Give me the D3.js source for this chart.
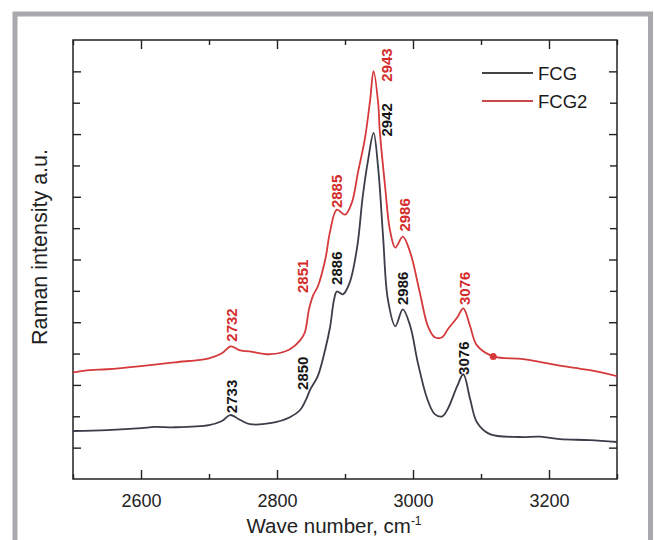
<!DOCTYPE html>
<html>
<head>
<meta charset="utf-8">
<script src="https://cdn.jsdelivr.net/npm/d3@7/dist/d3.min.js"></script>
<style>
  html, body { margin: 0; padding: 0; background: #fff; }
  svg { display: block; }
  text { font-family: "Liberation Sans", Arial, sans-serif; }
</style>
</head>
<body>
<svg id="chart" width="654" height="540"></svg>
<script>
// ---- Data ----
const xTicks = [2600, 2800, 3000, 3200];
const xMinorTicks = [2500, 2600, 2700, 2800, 2900, 3000, 3100, 3200, 3300];
const yTicks = [1, 2, 3, 4, 5, 6, 7, 8, 9, 10, 11, 12, 13];

const fcgWave = [2500, 2550, 2600, 2620, 2650, 2700, 2719, 2731, 2746, 2760, 2790, 2819, 2834, 2843, 2849, 2860, 2871, 2878, 2884, 2888, 2897, 2907, 2918, 2926, 2934, 2942, 2949, 2956, 2963, 2974, 2985, 2996, 3007, 3021, 3032, 3043, 3051, 3065, 3074, 3084, 3094, 3113, 3157, 3187, 3216, 3260, 3300];
const fcgInt  = [1.53, 1.56, 1.62, 1.66, 1.65, 1.72, 1.85, 2.04, 1.88, 1.75, 1.78, 1.97, 2.20, 2.55, 2.86, 3.28, 4.14, 4.84, 5.73, 5.98, 5.89, 6.27, 7.41, 9.00, 10.18, 11.04, 9.86, 7.73, 5.73, 4.87, 5.41, 4.87, 3.72, 2.55, 2.07, 2.00, 2.23, 2.96, 3.34, 2.55, 1.81, 1.43, 1.34, 1.35, 1.27, 1.24, 1.18];

const fcg2Wave = [2500, 2525, 2550, 2600, 2650, 2700, 2719, 2732, 2746, 2760, 2790, 2819, 2834, 2841, 2847, 2853, 2860, 2871, 2878, 2888, 2900, 2910, 2919, 2929, 2937, 2942, 2949, 2951, 2959, 2966, 2974, 2985, 2996, 3010, 3022, 3032, 3043, 3051, 3065, 3074, 3084, 3094, 3118, 3162, 3212, 3260, 3300];
const fcg2Int  = [3.40, 3.47, 3.50, 3.60, 3.72, 3.85, 4.01, 4.23, 4.10, 4.07, 3.98, 4.14, 4.42, 4.68, 5.41, 5.85, 6.14, 7.00, 7.89, 8.59, 8.43, 8.81, 9.77, 10.82, 12.09, 13.01, 11.93, 11.14, 9.32, 7.95, 7.38, 7.73, 7.22, 5.95, 4.87, 4.52, 4.52, 4.77, 5.15, 5.44, 4.87, 4.26, 3.91, 3.82, 3.63, 3.47, 3.28];

// peak label anchors (label baseline position, wave number / intensity)
const fcgPeaks = ["2733", "2850", "2886", "2942", "2986", "3076"];
const fcgPeakX = [2741.5, 2845, 2896, 2969, 2993, 3082];
const fcgPeakY = [2.10, 2.84, 6.19, 10.92, 5.55, 3.32];

const fcg2Peaks = ["2732", "2851", "2885", "2943", "2986", "3076"];
const fcg2PeakX = [2741.5, 2846, 2896, 2969, 2995, 3084.5];
const fcg2PeakY = [4.38, 5.93, 8.64, 12.67, 7.89, 5.55];

const markerWave = [3118];
const markerInt = [3.91];

const seriesNames = ["FCG", "FCG2"];
const seriesColors = ["#3b3d48", "#d5393b"];
const labelColors = ["#151515", "#d42b2b"];

// ---- Layout ----
const svg = d3.select("#chart");
const L = 73, R = 617, T = 40, B = 479;

const x = d3.scaleLinear().domain([2500, 3300]).range([L, R]);
const y = d3.scaleLinear().domain([0, 14]).range([B, T]);

// outer gray frame
svg.append("rect")
  .attr("x", 15).attr("y", 14).attr("width", 635.5).attr("height", 540)
  .attr("fill", "#fff").attr("stroke", "#a9a9ad").attr("stroke-width", 5);

// plot frame
svg.append("rect")
  .attr("x", L).attr("y", T).attr("width", R - L).attr("height", B - T)
  .attr("fill", "none").attr("stroke", "#222").attr("stroke-width", 1.5);

const axisColor = "#222";
function styleAxis(g) {
  g.select(".domain").remove();
  g.selectAll(".tick line").attr("stroke", axisColor).attr("stroke-width", 1.4);
}
// bottom ticks (inward)
svg.append("g").attr("transform", `translate(0,${B})`)
  .call(d3.axisBottom(x).tickValues(xMinorTicks).tickSize(0).tickFormat(""))
  .call(g => {
    styleAxis(g);
    g.selectAll(".tick line").attr("y2", d => xTicks.includes(d) ? -9 : -5);
  });
// bottom labels
svg.append("g").attr("transform", `translate(0,${B})`)
  .call(d3.axisBottom(x).tickValues(xTicks).tickSize(0).tickPadding(15).tickFormat(d3.format("d")))
  .call(g => {
    styleAxis(g);
    g.selectAll(".tick text").attr("font-size", 18).attr("fill", "#222")
      .attr("font-family", "Liberation Sans, Arial, sans-serif");
  });
// top
svg.append("g").attr("transform", `translate(0,${T})`)
  .call(d3.axisTop(x).tickValues(xMinorTicks).tickSize(0).tickFormat(""))
  .call(g => {
    styleAxis(g);
    g.selectAll(".tick line").attr("y2", d => xTicks.includes(d) ? 9 : 5);
  });
// left
svg.append("g").attr("transform", `translate(${L},0)`)
  .call(d3.axisLeft(y).tickValues(yTicks).tickSize(0).tickFormat(""))
  .call(g => {
    styleAxis(g);
    g.selectAll(".tick line").attr("x2", d => d % 2 === 1 ? 8 : 7);
  });
// right
svg.append("g").attr("transform", `translate(${R},0)`)
  .call(d3.axisRight(y).tickValues(yTicks).tickSize(0).tickFormat(""))
  .call(g => {
    styleAxis(g);
    g.selectAll(".tick line").attr("x2", d => d % 2 === 1 ? -8 : -7);
  });

// ---- series ----
const line = d3.line()
  .x(d => x(d[0])).y(d => y(d[1]))
  .curve(d3.curveCatmullRom.alpha(0.5));

const fcgData = fcgWave.map((w, i) => [w, fcgInt[i]]);
const fcg2Data = fcg2Wave.map((w, i) => [w, fcg2Int[i]]);

svg.append("clipPath").attr("id", "clip")
  .append("rect").attr("x", L).attr("y", T).attr("width", R - L).attr("height", B - T);

const plot = svg.append("g").attr("clip-path", "url(#clip)");
plot.append("path").datum(fcg2Data)
  .attr("fill", "none").attr("stroke", seriesColors[1]).attr("stroke-width", 1.8)
  .attr("stroke-linejoin", "round").attr("d", line);
plot.append("path").datum(fcgData)
  .attr("fill", "none").attr("stroke", seriesColors[0]).attr("stroke-width", 1.8)
  .attr("stroke-linejoin", "round").attr("d", line);

plot.selectAll("circle.marker").data(markerWave).join("circle")
  .attr("class", "marker")
  .attr("cx", d => x(d)).attr("cy", (d, i) => y(markerInt[i]))
  .attr("r", 3.5).attr("fill", seriesColors[1]);

// ---- peak labels (rotated) ----
function peakLabels(names, px, py, color) {
  svg.append("g").selectAll("text").data(names).join("text")
    .attr("transform", (d, i) => `translate(${x(px[i])},${y(py[i])}) rotate(-90)`)
    .attr("font-size", 15).attr("font-weight", "bold").attr("fill", color)
    .attr("text-anchor", "start")
    .text(d => d);
}
peakLabels(fcgPeaks, fcgPeakX, fcgPeakY, labelColors[0]);
peakLabels(fcg2Peaks, fcg2PeakX, fcg2PeakY, labelColors[1]);

// ---- legend ----
const legend = svg.append("g");
seriesNames.forEach((name, i) => {
  const ly = 73 + i * 28;
  legend.append("line").attr("x1", 482).attr("x2", 533).attr("y1", ly).attr("y2", ly)
    .attr("stroke", i === 0 ? "#444" : "#c9494a").attr("stroke-width", 1.8);
  legend.append("text").attr("x", 538).attr("y", ly + 6.5)
    .attr("font-size", 18.5).attr("fill", "#1a1a1a").text(name);
});

// ---- axis titles ----
const xt = svg.append("text").attr("x", 334).attr("y", 533)
  .attr("text-anchor", "middle").attr("font-size", 20.5).attr("fill", "#222");
xt.append("tspan").text("Wave number, cm");
xt.append("tspan").attr("dy", -8).attr("font-size", 12).text("-1");

svg.append("text")
  .attr("transform", "translate(46.5,247) rotate(-90)")
  .attr("text-anchor", "middle").attr("font-size", 21.5).attr("fill", "#222")
  .text("Raman intensity a.u.");
</script>
</body>
</html>
